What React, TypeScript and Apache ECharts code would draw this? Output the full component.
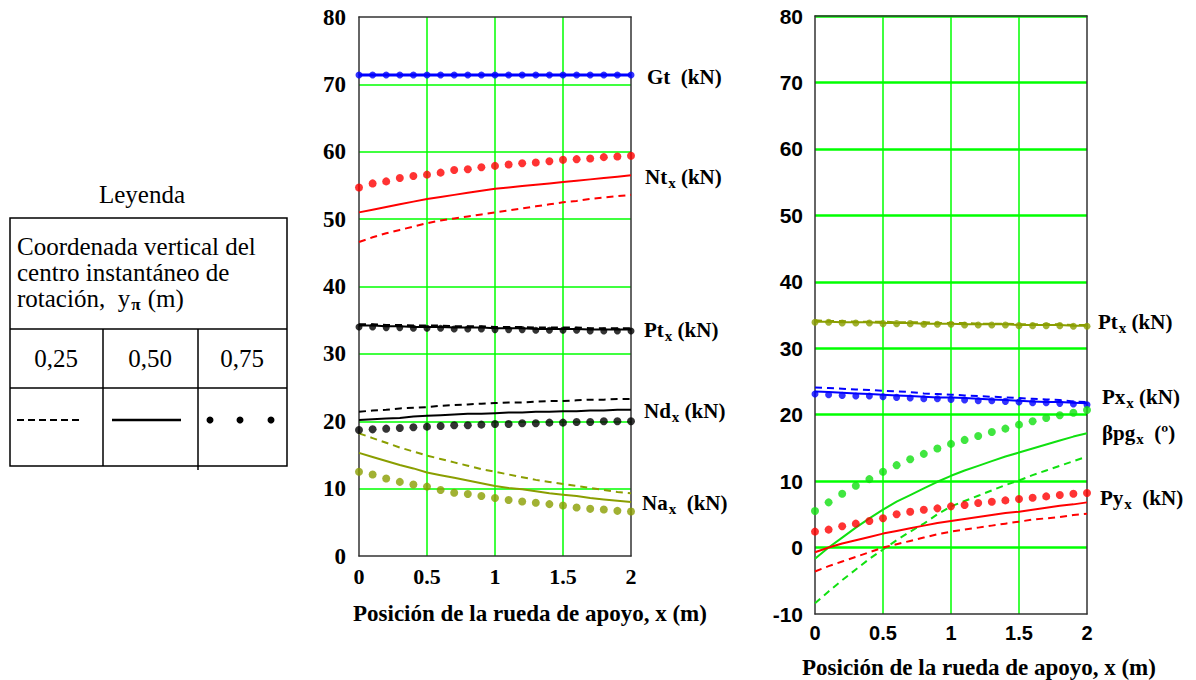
import React, { useEffect, useRef } from "react";
import * as echarts from "echarts";

// ---------- data ----------
const X = [0, 0.1, 0.2, 0.3, 0.4, 0.5, 0.6, 0.7, 0.8, 0.9, 1, 1.1, 1.2, 1.3, 1.4, 1.5, 1.6, 1.7, 1.8, 1.9, 2];
const X_TICKS = ["0", "0.5", "1", "1.5", "2"];
const YPI = ["0,25", "0,50", "0,75"];

// Left chart (kN)
const GT_025 = [71.4, 71.4, 71.4, 71.4, 71.4, 71.4, 71.4, 71.4, 71.4, 71.4, 71.4, 71.4, 71.4, 71.4, 71.4, 71.4, 71.4, 71.4, 71.4, 71.4, 71.4];
const GT_050 = [71.4, 71.4, 71.4, 71.4, 71.4, 71.4, 71.4, 71.4, 71.4, 71.4, 71.4, 71.4, 71.4, 71.4, 71.4, 71.4, 71.4, 71.4, 71.4, 71.4, 71.4];
const GT_075 = [71.4, 71.4, 71.4, 71.4, 71.4, 71.4, 71.4, 71.4, 71.4, 71.4, 71.4, 71.4, 71.4, 71.4, 71.4, 71.4, 71.4, 71.4, 71.4, 71.4, 71.4];

const NT_025 = [46.6, 47.3, 47.9, 48.4, 48.9, 49.4, 49.8, 50.1, 50.4, 50.7, 51.0, 51.3, 51.6, 51.9, 52.2, 52.5, 52.7, 53.0, 53.2, 53.4, 53.6];
const NT_050 = [51.0, 51.4, 51.8, 52.2, 52.6, 53.0, 53.3, 53.6, 53.9, 54.2, 54.5, 54.7, 54.9, 55.1, 55.3, 55.5, 55.7, 55.9, 56.1, 56.3, 56.5];
const NT_075 = [54.7, 55.3, 55.6, 56.1, 56.4, 56.6, 56.9, 57.3, 57.4, 57.7, 57.9, 58.1, 58.3, 58.4, 58.6, 58.8, 58.9, 59.0, 59.2, 59.3, 59.4];

const PT_025 = [34.4, 34.4, 34.3, 34.3, 34.2, 34.2, 34.2, 34.1, 34.1, 34.1, 34.0, 34.0, 34.0, 33.9, 33.9, 33.9, 33.9, 33.8, 33.8, 33.8, 33.8];
const PT_050 = [34.2, 34.2, 34.1, 34.1, 34.0, 34.0, 34.0, 33.9, 33.9, 33.9, 33.8, 33.8, 33.8, 33.7, 33.7, 33.7, 33.7, 33.6, 33.6, 33.6, 33.6];
const PT_075 = [34.0, 34.0, 33.9, 33.9, 33.8, 33.8, 33.8, 33.7, 33.7, 33.7, 33.6, 33.6, 33.6, 33.5, 33.5, 33.5, 33.5, 33.4, 33.4, 33.4, 33.4];

const ND_025 = [21.4, 21.6, 21.7, 21.9, 22.0, 22.1, 22.3, 22.4, 22.5, 22.6, 22.7, 22.8, 22.8, 22.9, 23.0, 23.0, 23.1, 23.2, 23.2, 23.3, 23.3];
const ND_050 = [20.2, 20.3, 20.4, 20.5, 20.7, 20.8, 20.9, 21.0, 21.1, 21.1, 21.2, 21.3, 21.3, 21.4, 21.4, 21.5, 21.5, 21.6, 21.6, 21.7, 21.7];
const ND_075 = [18.7, 18.8, 18.9, 19.0, 19.1, 19.2, 19.3, 19.4, 19.4, 19.5, 19.6, 19.6, 19.7, 19.7, 19.8, 19.8, 19.9, 19.9, 20.0, 20.0, 20.0];

const NA_025 = [18.2, 17.5, 16.8, 16.1, 15.5, 14.9, 14.4, 13.9, 13.4, 12.9, 12.5, 12.1, 11.7, 11.3, 11.0, 10.7, 10.4, 10.1, 9.8, 9.5, 9.3];
const NA_050 = [15.3, 14.7, 14.1, 13.5, 13.0, 12.4, 12.0, 11.6, 11.2, 10.8, 10.4, 10.1, 9.9, 9.6, 9.3, 9.1, 8.9, 8.6, 8.4, 8.2, 8.0];
const NA_075 = [12.5, 12.1, 11.5, 11.0, 10.6, 10.3, 9.8, 9.4, 9.2, 8.9, 8.6, 8.3, 8.1, 7.9, 7.7, 7.5, 7.2, 7.0, 6.9, 6.7, 6.6];

// Right chart
const RPT_025 = [34.2, 34.1, 34.1, 34.0, 34.0, 34.0, 33.9, 33.9, 33.9, 33.8, 33.8, 33.8, 33.7, 33.7, 33.7, 33.6, 33.6, 33.6, 33.6, 33.5, 33.5];
const RPT_050 = [34.0, 34.0, 33.9, 33.9, 33.9, 33.8, 33.8, 33.8, 33.7, 33.7, 33.7, 33.6, 33.6, 33.6, 33.6, 33.5, 33.5, 33.5, 33.5, 33.4, 33.4];
const RPT_075 = [33.9, 33.9, 33.8, 33.8, 33.8, 33.7, 33.7, 33.7, 33.6, 33.6, 33.6, 33.5, 33.5, 33.5, 33.5, 33.4, 33.4, 33.4, 33.4, 33.3, 33.3];

const PX_025 = [24.1, 24.0, 23.9, 23.8, 23.7, 23.6, 23.5, 23.4, 23.2, 23.1, 23.0, 22.9, 22.8, 22.7, 22.6, 22.5, 22.4, 22.3, 22.2, 22.0, 21.9];
const PX_050 = [23.5, 23.4, 23.3, 23.2, 23.1, 23.0, 22.9, 22.8, 22.7, 22.6, 22.6, 22.5, 22.4, 22.3, 22.2, 22.1, 22.0, 21.9, 21.9, 21.8, 21.7];
const PX_075 = [23.1, 23.0, 22.9, 22.8, 22.8, 22.7, 22.6, 22.5, 22.4, 22.4, 22.3, 22.2, 22.1, 22.1, 22.0, 21.9, 21.8, 21.8, 21.7, 21.6, 21.5];

const BPG_025 = [-8.4, -6.6, -4.9, -3.3, -1.7, -0.3, 1.1, 2.4, 3.6, 5.0, 6.2, 7.0, 7.8, 8.6, 9.4, 10.1, 10.9, 11.6, 12.3, 13.0, 13.7];
const BPG_050 = [-1.7, 0.0, 1.5, 3.0, 4.4, 5.7, 6.9, 7.9, 8.9, 9.9, 10.8, 11.6, 12.3, 13.0, 13.7, 14.3, 14.9, 15.5, 16.1, 16.7, 17.2];
const BPG_075 = [5.5, 6.8, 8.1, 9.3, 10.3, 11.4, 12.4, 13.3, 14.1, 14.9, 15.6, 16.2, 16.8, 17.4, 17.9, 18.5, 19.0, 19.5, 19.9, 20.3, 20.7];

const PY_025 = [-3.6, -2.8, -2.1, -1.4, -0.7, 0.0, 0.5, 1.0, 1.5, 2.0, 2.4, 2.7, 3.0, 3.3, 3.6, 3.9, 4.2, 4.4, 4.6, 4.9, 5.1];
const PY_050 = [-0.7, 0.0, 0.6, 1.1, 1.6, 2.1, 2.5, 2.9, 3.3, 3.7, 4.0, 4.3, 4.6, 4.9, 5.2, 5.4, 5.7, 6.0, 6.3, 6.5, 6.8];
const PY_075 = [2.4, 2.7, 3.2, 3.6, 4.0, 4.4, 5.0, 5.4, 5.7, 5.9, 6.2, 6.4, 6.7, 6.9, 7.1, 7.3, 7.5, 7.7, 7.9, 8.1, 8.2];

// ---------- styles ----------
const RED = "#ff0000";
const BLUE = "#0000ff";
const BLACK = "#000000";
const OLIVE = "#8a9e00";
const GREEN = "#10e010";
const GRID_GREEN = "#00ff00";
const SERIF = "Liberation Serif, Times New Roman, serif";
const SANS = "Liberation Sans, Arial, sans-serif";

const pts = (vals: number[]) => X.map((x, i) => [x, vals[i]]);

function trio(name: string, color: string, d25: number[], d50: number[], d75: number[], axis: number, solidWidth = 2, dot = 8) {
  return [
    {
      name: name + " 0,25", type: "line", xAxisIndex: axis, yAxisIndex: axis, data: pts(d25),
      showSymbol: false, symbol: "none", lineStyle: { color, width: 2, type: [7, 5] }, z: 3,
    },
    {
      name: name + " 0,50", type: "line", xAxisIndex: axis, yAxisIndex: axis, data: pts(d50),
      showSymbol: false, symbol: "none", lineStyle: { color, width: solidWidth, type: "solid" }, z: 3,
    },
    {
      name: name + " 0,75", type: "scatter", xAxisIndex: axis, yAxisIndex: axis, data: pts(d75),
      symbol: "circle", symbolSize: dot, itemStyle: { color }, z: 4,
    },
  ];
}

const measureCtx = typeof document !== "undefined" ? document.createElement("canvas").getContext("2d") : null;
function fontStr(size: number, weight: string) {
  return (weight === "bold" ? "bold " : "") + size + "px " + SERIF;
}
function textWidth(text: string, font: string) {
  if (!measureCtx) return text.length * 8;
  measureCtx.font = font;
  return measureCtx.measureText(text).width;
}

function txt(x: number, y: number, text: string, size: number, weight: string, align = "left") {
  return {
    type: "text", x, y, z: 20,
    style: {
      text, fill: "#000", font: fontStr(size, weight),
      align, verticalAlign: "middle", textAlign: align, textVerticalAlign: "middle",
    },
  };
}

// label with subscript: main + sub + tail
function subLabel(x: number, y: number, main: string, sub: string, tail: string, size = 21, subSize = 15, subDy = 6) {
  const w1 = textWidth(main, fontStr(size, "bold"));
  const w2 = textWidth(sub, fontStr(subSize, "bold"));
  return [
    txt(x, y, main, size, "bold"),
    txt(x + w1 + 1, y + subDy, sub, subSize, "bold"),
    txt(x + w1 + 1 + w2, y, tail, size, "bold"),
  ];
}

function lineEl(x1: number, y1: number, x2: number, y2: number, width = 1.5, dash?: number[]) {
  return {
    type: "line", z: 20,
    shape: { x1, y1, x2, y2 },
    style: { stroke: "#000", lineWidth: width, lineDash: dash },
  };
}

export default function App() {
  const ref = useRef<HTMLDivElement>(null);

  useEffect(() => {
    if (!ref.current) return;
    const chart = echarts.init(ref.current, undefined, { renderer: "svg" });

    const borderLine = { show: true, onZero: false, lineStyle: { color: "#333", width: 1.5 } };

    const xAxisBase = (grid: number, font: any) => ({
      gridIndex: grid, type: "value", min: 0, max: 2, interval: 0.5, position: "bottom",
      axisLine: borderLine, axisTick: { show: false },
      axisLabel: { margin: 9, color: "#000", ...font, formatter: (v: number) => X_TICKS[Math.round(v * 2)] ?? String(v) },
      splitLine: { show: true, showMinLine: false, showMaxLine: false, lineStyle: { color: GRID_GREEN, width: 1.5 } },
    });
    const xTop = (grid: number) => ({
      gridIndex: grid, type: "value", min: 0, max: 2, position: "top",
      axisLine: borderLine, axisTick: { show: false }, axisLabel: { show: false }, splitLine: { show: false },
    });
    const yRight = (grid: number, min: number) => ({
      gridIndex: grid, type: "value", min, max: 80, position: "right",
      axisLine: borderLine, axisTick: { show: false }, axisLabel: { show: false }, splitLine: { show: false },
    });

    const TF = 25; // table font size
    const graphic: any[] = [];
    // Legend box
    graphic.push(txt(142, 194, "Leyenda", TF, "normal", "center"));
    graphic.push({ type: "rect", z: 20, shape: { x: 10, y: 218, width: 277, height: 248 }, style: { fill: "none", stroke: "#000", lineWidth: 1.5 } });
    graphic.push(lineEl(10, 329, 287, 329));
    graphic.push(lineEl(10, 388, 287, 388));
    graphic.push(lineEl(103, 329, 103, 466));
    graphic.push(lineEl(198, 329, 198, 470));
    graphic.push(txt(17, 246, "Coordenada vertical del", TF, "normal"));
    graphic.push(txt(17, 272, "centro instantáneo de", TF, "normal"));
    {
      const t1 = "rotación,  y";
      const w1 = textWidth(t1, fontStr(TF, "normal"));
      const wpi = textWidth("π", fontStr(17, "bold"));
      graphic.push(txt(17, 298, t1, TF, "normal"));
      graphic.push(txt(17 + w1 + 1, 304, "π", 17, "bold"));
      graphic.push(txt(17 + w1 + 2 + wpi, 298, " (m)", TF, "normal"));
    }
    graphic.push(txt(56, 358, YPI[0], TF, "normal", "center"));
    graphic.push(txt(150, 358, YPI[1], TF, "normal", "center"));
    graphic.push(txt(242, 358, YPI[2], TF, "normal", "center"));
    graphic.push(lineEl(17, 420, 82, 420, 2, [7, 4]));
    graphic.push(lineEl(112, 420, 181, 420, 2.5));
    [210, 240, 271].forEach((cx) => graphic.push({ type: "circle", z: 20, shape: { cx, cy: 420, r: 3.5 }, style: { fill: "#000" } }));

    // Series labels (left chart)
    graphic.push(txt(647, 77, "Gt  (kN)", 21, "bold"));
    graphic.push(...subLabel(645, 177, "Nt", "x", " (kN)"));
    graphic.push(...subLabel(644, 330, "Pt", "x", " (kN)"));
    graphic.push(...subLabel(644, 411, "Nd", "x", " (kN)"));
    graphic.push(...subLabel(642, 503, "Na", "x", "  (kN)"));
    // Series labels (right chart)
    graphic.push(...subLabel(1098, 322, "Pt", "x", " (kN)"));
    graphic.push(...subLabel(1102, 397, "Px", "x", " (kN)"));
    graphic.push(...subLabel(1102, 433, "βpg", "x", "  (º)"));
    graphic.push(...subLabel(1100, 498, "Py", "x", "  (kN)"));

    // Axis titles
    graphic.push(txt(353, 613, "Posición de la rueda de apoyo, x (m)", 23, "bold"));
    graphic.push(txt(802, 667, "Posición de la rueda de apoyo, x (m)", 23, "bold"));

    const option: any = {
      animation: false,
      backgroundColor: "#fff",
      grid: [
        { left: 359, top: 17, width: 272, height: 539, containLabel: false },
        { left: 815, top: 16, width: 272, height: 598, containLabel: false },
      ],
      xAxis: [
        xAxisBase(0, { fontFamily: SERIF, fontWeight: "bold", fontSize: 22 }),
        xTop(0),
        xAxisBase(1, { fontFamily: SANS, fontWeight: "bold", fontSize: 20 }),
        xTop(1),
      ],
      yAxis: [
        {
          gridIndex: 0, type: "value", min: 0, max: 80, interval: 10, position: "left",
          axisLine: borderLine, axisTick: { show: false },
          axisLabel: { margin: 13, color: "#000", fontFamily: SERIF, fontWeight: "bold", fontSize: 23 },
          splitLine: { show: true, showMinLine: false, showMaxLine: false, lineStyle: { color: GRID_GREEN, width: 1.5 } },
        },
        yRight(0, 0),
        {
          gridIndex: 1, type: "value", min: -10, max: 80, interval: 10, position: "left",
          axisLine: borderLine, axisTick: { show: false },
          axisLabel: { margin: 12, color: "#000", fontFamily: SANS, fontWeight: "bold", fontSize: 21 },
          splitLine: { show: true, showMinLine: false, showMaxLine: true, lineStyle: { color: GRID_GREEN, width: 2.5 } },
        },
        yRight(1, -10),
      ],
      series: [
        ...trio("Gt", BLUE, GT_025, GT_050, GT_075, 0, 3, 7),
        ...trio("Nt", RED, NT_025, NT_050, NT_075, 0),
        ...trio("Pt", BLACK, PT_025, PT_050, PT_075, 0, 2, 7),
        ...trio("Nd", BLACK, ND_025, ND_050, ND_075, 0),
        ...trio("Na", OLIVE, NA_025, NA_050, NA_075, 0),
        ...trio("Pt r", OLIVE, RPT_025, RPT_050, RPT_075, 2, 2, 7),
        ...trio("Px", BLUE, PX_025, PX_050, PX_075, 2, 2, 7),
        ...trio("βpg", GREEN, BPG_025, BPG_050, BPG_075, 2),
        ...trio("Py", RED, PY_025, PY_050, PY_075, 2),
      ],
      graphic,
    };
    chart.setOption(option);
    return () => chart.dispose();
  }, []);

  return <div ref={ref} style={{ position: "absolute", left: 0, top: 0, width: 1196, height: 680, background: "#fff" }} />;
}
